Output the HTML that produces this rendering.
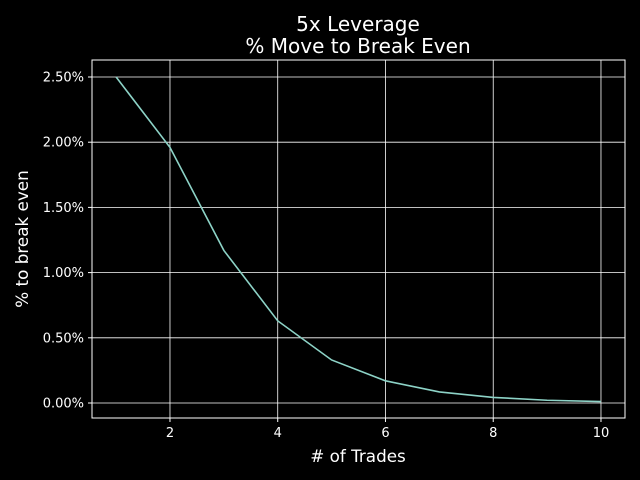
<!DOCTYPE html>
<html><head><meta charset="utf-8"><style>
html,body{margin:0;padding:0;background:#000;}
svg{display:block;font-family:"DejaVu Sans","Liberation Sans",sans-serif;}
</style></head><body>
<svg id="chart" width="640" height="480">
<rect width="640" height="480" fill="#000"/>
<g id="grid"></g>
<g id="ticks"></g>
<polyline id="line" fill="none" stroke="#8dd3c7" stroke-width="1.6"/>
<rect x="92" y="60" width="533" height="358" fill="none" stroke="#fff" stroke-width="1"/>
<text x="358" y="31" fill="#fff" font-size="20" text-anchor="middle">5x Leverage</text>
<text x="358" y="53" fill="#fff" font-size="20" text-anchor="middle">% Move to Break Even</text>
<text x="358" y="462" fill="#fff" font-size="16.8" text-anchor="middle"># of Trades</text>
<text transform="translate(28,239) rotate(-90)" fill="#fff" font-size="16.8" text-anchor="middle">% to break even</text>
</svg>
<script>
const trades = [1,2,3,4,5,6,7,8,9,10];
const breakEvenPct = [2.5,1.96,1.17,0.63,0.33,0.17,0.085,0.043,0.021,0.011];
const xTicks = [2,4,6,8,10];
const yTicks = [0,0.5,1.0,1.5,2.0,2.5];
const ns="http://www.w3.org/2000/svg";
function xs(v){return 116.1+(v-1)*53.875;}
function ys(v){return 403-v*130.4;}
const grid=document.getElementById('grid'),ticks=document.getElementById('ticks');
function mk(tag,attrs,parent){const e=document.createElementNS(ns,tag);for(const k in attrs)e.setAttribute(k,attrs[k]);parent.appendChild(e);return e;}
xTicks.forEach(t=>{
  const g=mk('line',{x1:xs(t),x2:xs(t),y1:60,y2:418,stroke:'#fff','stroke-width':0.8},grid);
  
  
  const tk=mk('line',{x1:xs(t),x2:xs(t),y1:418,y2:422,stroke:'#fff'},ticks);
  
  
  const tx=mk('text',{x:xs(t),y:437,fill:'#fff','font-size':13,'text-anchor':'middle'},ticks);
  tx.textContent=t;
  
  
});
yTicks.forEach(t=>{
  const g=mk('line',{x1:92,x2:625,y1:ys(t),y2:ys(t),stroke:'#fff','stroke-width':0.8},grid);
  
  
  const tk=mk('line',{x1:88,x2:92,y1:ys(t),y2:ys(t),stroke:'#fff'},ticks);
  
  
  const tx=mk('text',{x:84,y:ys(t)+4.5,fill:'#fff','font-size':13,'text-anchor':'end'},ticks);
  tx.textContent=t.toFixed(2)+'%';
  
  
});
document.getElementById('line').setAttribute('points',trades.map((t,i)=>xs(t)+','+ys(breakEvenPct[i])).join(' '));
</script>
</body></html>
